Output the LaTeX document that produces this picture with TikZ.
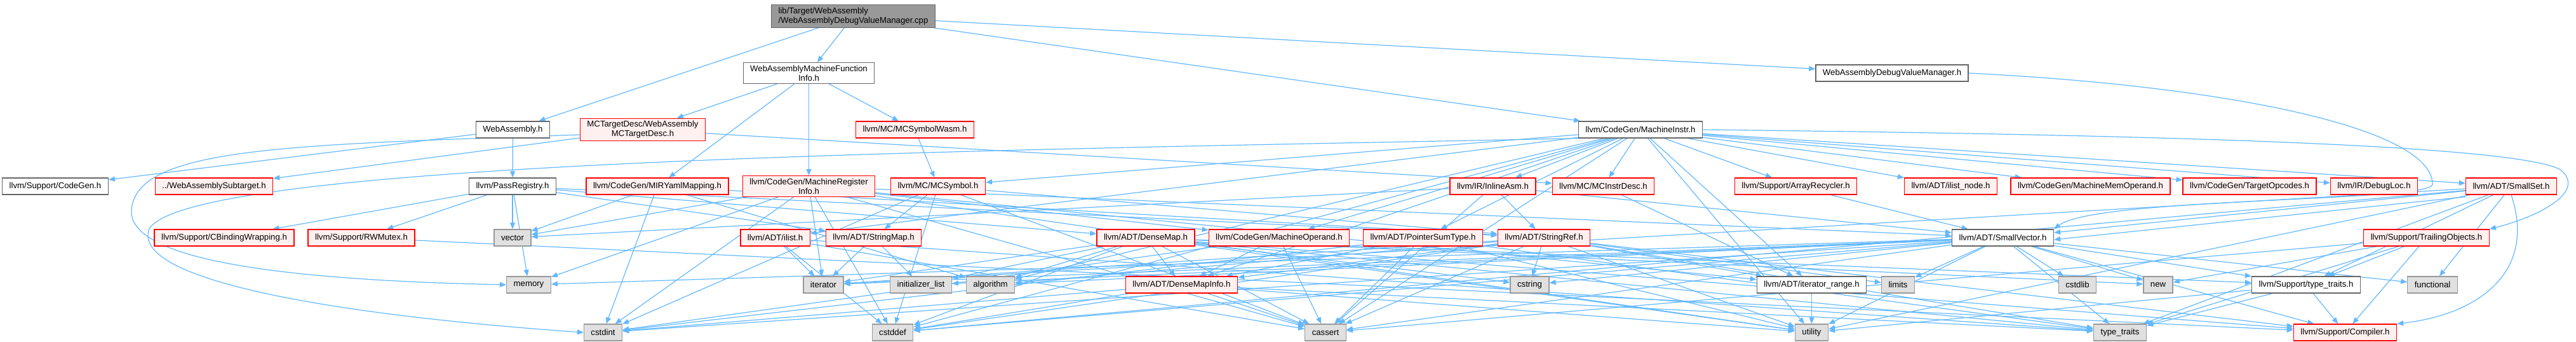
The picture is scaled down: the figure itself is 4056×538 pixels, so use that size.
\documentclass[tikz,border=0pt]{standalone}
\usepackage{fontspec}
\setmainfont{Liberation Sans}
\usetikzlibrary{arrows.meta, backgrounds}

\definecolor{edgeblue}{HTML}{63B8FF}
\definecolor{hdrgray}{HTML}{666666}
\definecolor{truncred}{HTML}{FF0000}
\definecolor{truncfill}{HTML}{FFF0F0}
\definecolor{sysgray}{HTML}{999999}
\definecolor{sysfill}{HTML}{E0E0E0}
\definecolor{rootfill}{HTML}{999999}

\tikzset{
  file/.style={rectangle, minimum height=26pt, inner xsep=11pt, inner ysep=4pt,
               line width=1.3pt, font=\fontsize{13.2}{15}\selectfont},
  hdrfile/.style={file, draw=hdrgray, fill=white},
  redfile/.style={file, draw=truncred, fill=truncfill},
  sysfile/.style={file, draw=sysgray, fill=sysfill},
  rootfile/.style={file, draw=hdrgray, fill=rootfill},
  dep/.style={draw=edgeblue, line width=1.2pt, -{Triangle[length=10pt,width=8pt]}}
}

\begin{document}
\begin{tikzpicture}[x=1pt, y=-1pt]
  \useasboundingbox (0,0) rectangle (4056,538);

  % top rows
  \node[rootfile, align=left] (root) at (1343.5,25.5) {lib/Target/WebAssembly\\/WebAssemblyDebugValueManager.cpp};
  \node[hdrfile, align=center] (wamfi) at (1273.5,115) {WebAssemblyMachineFunction\\Info.h};
  \node[hdrfile] (wadvm) at (2979,115) {WebAssemblyDebugValueManager.h};
  \node[hdrfile] (wasm) at (807.5,204) {WebAssembly.h};
  \node[redfile, align=center] (mctd) at (1012,204) {MCTargetDesc/WebAssembly\\MCTargetDesc.h};
  \node[redfile] (symwasm) at (1440.5,204) {llvm/MC/MCSymbolWasm.h};
  \node[hdrfile] (minstr) at (2583,204) {llvm/CodeGen/MachineInstr.h};

  % row 3
  \node[hdrfile] (codegen) at (87,293) {llvm/Support/CodeGen.h};
  \node[redfile] (subtarget) at (337,293) {../WebAssemblySubtarget.h};
  \node[hdrfile] (passreg) at (807,293) {llvm/PassRegistry.h};
  \node[redfile] (miryaml) at (1035,293) {llvm/CodeGen/MIRYamlMapping.h};
  \node[redfile, align=center] (mri) at (1273.5,293) {llvm/CodeGen/MachineRegister\\Info.h};
  \node[redfile] (mcsym) at (1477,293) {llvm/MC/MCSymbol.h};
  \node[redfile] (inlineasm) at (2350.5,293) {llvm/IR/InlineAsm.h};
  \node[redfile] (instrdesc) at (2524.5,293) {llvm/MC/MCInstrDesc.h};
  \node[redfile] (arrayrec) at (2827.5,293) {llvm/Support/ArrayRecycler.h};
  \node[redfile] (ilistnode) at (3071.5,293) {llvm/ADT/ilist\_node.h};
  \node[redfile] (mmo) at (3291.5,293) {llvm/CodeGen/MachineMemOperand.h};
  \node[redfile] (targetop) at (3542,293) {llvm/CodeGen/TargetOpcodes.h};
  \node[redfile] (debugloc) at (3738,293) {llvm/IR/DebugLoc.h};
  \node[redfile] (smallset) at (3954,293) {llvm/ADT/SmallSet.h};

  % row 4
  \node[redfile] (cbinding) at (353,374) {llvm/Support/CBindingWrapping.h};
  \node[redfile] (rwmutex) at (569,374) {llvm/Support/RWMutex.h};
  \node[sysfile] (stdvector) at (807,374) {vector};
  \node[redfile] (ilist) at (1220.5,374) {llvm/ADT/ilist.h};
  \node[redfile] (stringmap) at (1375.5,374) {llvm/ADT/StringMap.h};
  \node[redfile] (densemap) at (1804,374) {llvm/ADT/DenseMap.h};
  \node[redfile] (moperand) at (2014,374) {llvm/CodeGen/MachineOperand.h};
  \node[redfile] (ptrsum) at (2240.5,374) {llvm/ADT/PointerSumType.h};
  \node[redfile] (stringref) at (2431,374) {llvm/ADT/StringRef.h};
  \node[hdrfile] (smallvec) at (3153.5,374) {llvm/ADT/SmallVector.h};
  \node[redfile] (trailing) at (3820.5,374) {llvm/Support/TrailingObjects.h};

  % row 5
  \node[sysfile] (stdmemory) at (832.5,448) {memory};
  \node[sysfile] (stditerator) at (1296.5,448) {iterator};
  \node[sysfile] (stdinitlist) at (1450,448) {initializer\_list};
  \node[sysfile] (stdalgorithm) at (1559.5,448) {algorithm};
  \node[redfile] (dmapinfo) at (1860.5,448) {llvm/ADT/DenseMapInfo.h};
  \node[sysfile] (stdcstring) at (2408.5,448) {cstring};
  \node[hdrfile] (itrange) at (2852.5,448) {llvm/ADT/iterator\_range.h};
  \node[sysfile] (stdlimits) at (2988.5,448) {limits};
  \node[sysfile] (stdcstdlib) at (3271,448) {cstdlib};
  \node[sysfile] (stdnew) at (3398,448) {new};
  \node[hdrfile] (stypetraits) at (3631,448) {llvm/Support/type\_traits.h};
  \node[sysfile] (stdfunctional) at (3830,448) {functional};

  % row 6
  \node[sysfile] (stdcstdint) at (949.5,523) {cstdint};
  \node[sysfile] (stdcstddef) at (1405.5,523) {cstddef};
  \node[sysfile] (stdcassert) at (2087,523) {cassert};
  \node[sysfile] (stdutility) at (2852.5,523) {utility};
  \node[sysfile] (stdtypetraits) at (3338,523) {type\_traits};
  \node[redfile] (compiler) at (3692.5,523) {llvm/Support/Compiler.h};

  \begin{scope}[on background layer]
    % includes of the upper headers
    \foreach \t in {wasm, wamfi, minstr, wadvm} \draw[dep] (root) -- (\t);
    \foreach \t in {codegen, passreg} \draw[dep] (wasm) -- (\t);
    \foreach \t in {mctd, miryaml, mri, symwasm} \draw[dep] (wamfi) -- (\t);
    \foreach \t in {subtarget, instrdesc} \draw[dep] (mctd) -- (\t);
    \draw[dep] (symwasm) -- (mcsym);
    \foreach \t in {stdvector, stdmemory, rwmutex, cbinding, stringmap, densemap, stringref}
      \draw[dep] (passreg) -- (\t);
    \foreach \t in {stdvector, stdcstdint, stdalgorithm, stringref} \draw[dep] (miryaml) -- (\t);
    \foreach \t in {stdvector, stdmemory, stdcstdint, stditerator, stdcstddef, stdcassert, stdutility, smallvec, itrange, moperand}
      \draw[dep] (mri) -- (\t);
    \foreach \t in {stringmap, stringref, stdcstddef, stdcstdint, stdcassert} \draw[dep] (mcsym) -- (\t);

    % MachineInstr.h
    \foreach \t in {inlineasm, instrdesc, arrayrec, ilistnode, mmo, targetop, debugloc, smallset, mcsym, moperand, ptrsum, ilist, dmapinfo, itrange, stdalgorithm, stdcassert, stdcstddef, stdutility}
      \draw[dep] (minstr) -- (\t);

    % middle headers
    \foreach \t in {stringref, smallvec, stdvector, stdcassert} \draw[dep] (inlineasm) -- (\t);
    \draw[dep] (instrdesc) -- (itrange);
    \draw[dep] (arrayrec) -- (smallvec);
    \foreach \t in {stypetraits, stdfunctional, stdcstddef, stdutility, stdtypetraits, stditerator}
      \draw[dep] (smallset) -- (\t);
    \draw[dep] (smallset) -- (smallvec);
    \draw[dep] ([yshift=-3pt]smallset.south west) -- ([yshift=-3pt]smallvec.east);
    \foreach \t in {stdnew, stypetraits, compiler, stdcassert, stdtypetraits} \draw[dep] (trailing) -- (\t);
    \foreach \t in {stdtypetraits, compiler, stdutility} \draw[dep] (stypetraits) -- (\t);
    \foreach \t in {stdlimits, stdcstdlib, stdnew, stdtypetraits, stdutility, stdcassert, stdcstddef, stdcstdint, stdcstring, stdfunctional, stditerator, stdinitlist, stdalgorithm, stdmemory, compiler, stypetraits}
      \draw[dep] (smallvec) -- (\t);
    \foreach \t in {stdcstring, stdcassert, itrange, dmapinfo, stdalgorithm, stdcstddef, stditerator, stdlimits, stdtypetraits, stdutility, compiler}
      \draw[dep] (stringref) -- (\t);
    \foreach \t in {dmapinfo, stdcassert, stdcstdint, stdtypetraits, stdutility} \draw[dep] (ptrsum) -- (\t);
    \foreach \t in {dmapinfo, stdcassert, stdcstdint} \draw[dep] (moperand) -- (\t);
    \foreach \t in {dmapinfo, stdinitlist, stdalgorithm, stditerator, stdcstddef, stdcassert, stdcstring, stdnew, stdtypetraits, stdutility, compiler, stypetraits}
      \draw[dep] (densemap) -- (\t);
    \foreach \t in {stdcassert, stdcstddef, stdcstdint, stdutility, stdtypetraits} \draw[dep] (dmapinfo) -- (\t);
    \foreach \t in {stditerator, stdinitlist} \draw[dep] (stringmap) -- (\t);
    \foreach \t in {stditerator, stdcstddef, stdcassert, stdtypetraits} \draw[dep] (ilist) -- (\t);
    \draw[dep] (rwmutex) -- (compiler);
    \draw[dep] (itrange) -- (stdutility);

    % long edges routed round the outside
    \draw[dep] ([yshift=-8pt]mctd.west) .. controls (450,228) and (215,232) .. (207,330)
      .. controls (200,420) and (520,442) .. (stdmemory.west);
    \draw[dep] (minstr.south west) .. controls (1600,236) and (300,250) .. (235,360)
      .. controls (205,440) and (520,495) .. (stdcstdint.west);
    \draw[dep] (wadvm.east) .. controls (3500,135) and (3830,200) .. (3830,290)
      .. controls (3830,318) and (3300,310) .. (smallvec.north east);
    \draw[dep] (minstr.east) .. controls (3400,212) and (3950,228) .. (4030,266)
      .. controls (4075,300) and (4000,340) .. (trailing.north east);
    \draw[dep] (smallset.south) .. controls (3995,430) and (3900,495) .. (compiler.north east);
  \end{scope}
\end{tikzpicture}
\end{document}
